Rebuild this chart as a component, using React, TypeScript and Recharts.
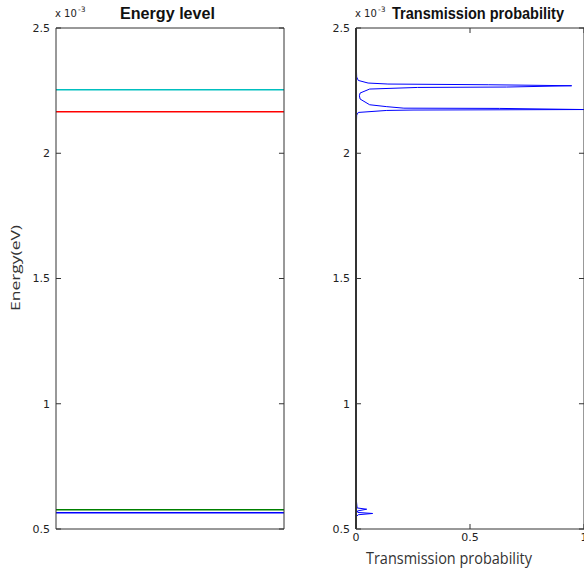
import React from "react";
import { ComposedChart, Line, XAxis, YAxis, ReferenceLine } from "recharts";

// energies in units of 1e-3 eV
const energyTicks = [0.5, 1, 1.5, 2, 2.5];
const probTicks = [0, 0.5, 1];

// bound-state levels (left panel)
const levelEnergies = [2.2535, 2.1657, 0.577, 0.565];
const levelColors = ["#00bfbf", "#ff0000", "#008000", "#0000ff"];

// transmission curve T(E), sampled in ascending energy
const transEnergy = [
  0.5, 0.55, 0.557, 0.562, 0.566, 0.572, 0.579, 0.584, 0.62, 1.0, 1.6, 2.1,
  2.1525, 2.1629, 2.1709, 2.1725, 2.1745, 2.179, 2.18, 2.186, 2.1936, 2.2164,
  2.2296, 2.2404, 2.2563, 2.2627, 2.2643, 2.2695, 2.2735, 2.2763, 2.2803,
  2.2907, 2.3043, 2.36, 2.5,
];
const transProb = [
  0, 0.002, 0.01, 0.073, 0.008, 0.006, 0.047, 0.005, 0.001, 0, 0, 0.001,
  0.003, 0.01, 0.135, 0.25, 1.0, 0.63, 0.21, 0.135, 0.06, 0.018,
  0.015, 0.018, 0.06, 0.27, 0.66, 0.946, 0.58, 0.14, 0.053,
  0.01, 0.003, 0.001, 0,
];

const FRAME = "#333";
const TICK_FONT = { fill: "#222", fontSize: 11, fontFamily: "DejaVu Sans" };
// inward tick length, in data units (5px on a 228 x 501 plot)
const TX = 0.022;
const TY = 0.02;

const levelData = levelEnergies.map((e) => [
  { x: 0, e },
  { x: 1, e },
]);
const transData = transEnergy.map((e, i) => ({ t: transProb[i], e }));

const fmt = (v: number) => String(v);
const frameLine = { stroke: FRAME, strokeWidth: 1 };

const Exponent = ({ x }: { x: number }) => (
  <g fontFamily="DejaVu Sans" fill="#222">
    <text x={x} y={17} fontSize={10}>
      x 10
    </text>
    <text x={x + 23} y={12} fontSize={7.5}>
      -3
    </text>
  </g>
);

// top and right sides of the box: bare axis lines, 1px of room each
const boxAxes = (xKey: string) => [
  <XAxis
    key="top"
    xAxisId="top"
    orientation="top"
    type="number"
    dataKey={xKey}
    domain={[0, 1]}
    height={1}
    tick={false}
    tickLine={false}
    axisLine={frameLine}
  />,
  <YAxis
    key="right"
    yAxisId="right"
    orientation="right"
    type="number"
    domain={[0.5, 2.5]}
    width={1}
    tick={false}
    tickLine={false}
    axisLine={frameLine}
  />,
];

const frameTicks = (withX: boolean) => (
  <>
    {energyTicks.map((v) => (
      <ReferenceLine
        key={`l${v}`}
        segment={[{ x: 0, y: v }, { x: TX, y: v }]}
        stroke={FRAME}
      />
    ))}
    {energyTicks.map((v) => (
      <ReferenceLine
        key={`r${v}`}
        segment={[{ x: 1, y: v }, { x: 1 - TX, y: v }]}
        stroke={FRAME}
      />
    ))}
    {withX &&
      probTicks.map((v) => (
        <ReferenceLine
          key={`b${v}`}
          segment={[{ x: v, y: 0.5 }, { x: v, y: 0.5 + TY }]}
          stroke={FRAME}
        />
      ))}
    {withX &&
      probTicks.map((v) => (
        <ReferenceLine
          key={`t${v}`}
          segment={[{ x: v, y: 2.5 }, { x: v, y: 2.5 - TY }]}
          stroke={FRAME}
        />
      ))}
  </>
);

const EnergyLevelChart = () => (
  <ComposedChart
    width={300}
    height={576}
    margin={{ top: 27, right: 15, bottom: 46, left: 0 }}
  >
    <XAxis
      type="number"
      dataKey="x"
      domain={[0, 1]}
      height={1}
      tick={false}
      tickLine={false}
      axisLine={frameLine}
    />
    <YAxis
      type="number"
      domain={[0.5, 2.5]}
      ticks={energyTicks}
      width={56}
      axisLine={frameLine}
      tickLine={false}
      tickSize={0}
      tickMargin={6}
      tick={TICK_FONT}
      tickFormatter={fmt}
    />
    {boxAxes("x")}
    {levelData.map((d, i) => (
      <Line
        key={i}
        data={d}
        dataKey="e"
        type="linear"
        stroke={levelColors[i]}
        strokeWidth={1.5}
        dot={false}
        isAnimationActive={false}
      />
    ))}
    {frameTicks(false)}
    <text
      x={120}
      y={19}
      fontSize={16}
      fontWeight="bold"
      fontFamily="Liberation Sans"
      textLength={95}
      lengthAdjust="spacingAndGlyphs"
      fill="#111"
    >
      Energy level
    </text>
    <Exponent x={55} />
    <text
      transform="translate(20 268) rotate(-90)"
      textAnchor="middle"
      fontSize={12}
      fontFamily="Open Sans"
      textLength={86}
      lengthAdjust="spacingAndGlyphs"
      fill="#333"
    >
      Energy(eV)
    </text>
  </ComposedChart>
);

const TransmissionChart = () => (
  <ComposedChart
    width={285}
    height={576}
    data={transData}
    margin={{ top: 27, right: 0, bottom: 27, left: 0 }}
  >
    <XAxis
      type="number"
      dataKey="t"
      domain={[0, 1]}
      ticks={probTicks}
      interval={0}
      height={20}
      axisLine={frameLine}
      tickLine={false}
      tickSize={0}
      tickMargin={4}
      tick={TICK_FONT}
      tickFormatter={fmt}
    />
    <YAxis
      type="number"
      domain={[0.5, 2.5]}
      ticks={energyTicks}
      width={56}
      axisLine={frameLine}
      tickLine={false}
      tickSize={0}
      tickMargin={6}
      tick={TICK_FONT}
      tickFormatter={fmt}
    />
    {boxAxes("t")}
    <Line
      dataKey="e"
      type="linear"
      stroke="#0000ff"
      strokeWidth={1}
      dot={false}
      isAnimationActive={false}
    />
    {/* left spine redrawn over the T = 0 stretch of the curve */}
    <ReferenceLine x={0} stroke={FRAME} strokeWidth={2} zIndex={1000} />
    {frameTicks(true)}
    <text
      x={92}
      y={19}
      fontSize={16}
      fontWeight="bold"
      fontFamily="Liberation Sans"
      textLength={172}
      lengthAdjust="spacingAndGlyphs"
      fill="#111"
    >
      Transmission probability
    </text>
    <Exponent x={55} />
    <text
      x={66}
      y={564}
      fontSize={17}
      fontFamily="Open Sans"
      textLength={166}
      lengthAdjust="spacingAndGlyphs"
      fill="#333"
    >
      Transmission probability
    </text>
  </ComposedChart>
);

export default function App() {
  return (
    <div
      style={{
        position: "absolute",
        left: 0,
        top: 0,
        width: 584,
        height: 576,
        overflow: "hidden",
        background: "#fff",
      }}
    >
      <div style={{ position: "absolute", left: 0, top: 0 }}>
        <EnergyLevelChart />
      </div>
      <div style={{ position: "absolute", left: 300, top: 0 }}>
        <TransmissionChart />
      </div>
    </div>
  );
}
